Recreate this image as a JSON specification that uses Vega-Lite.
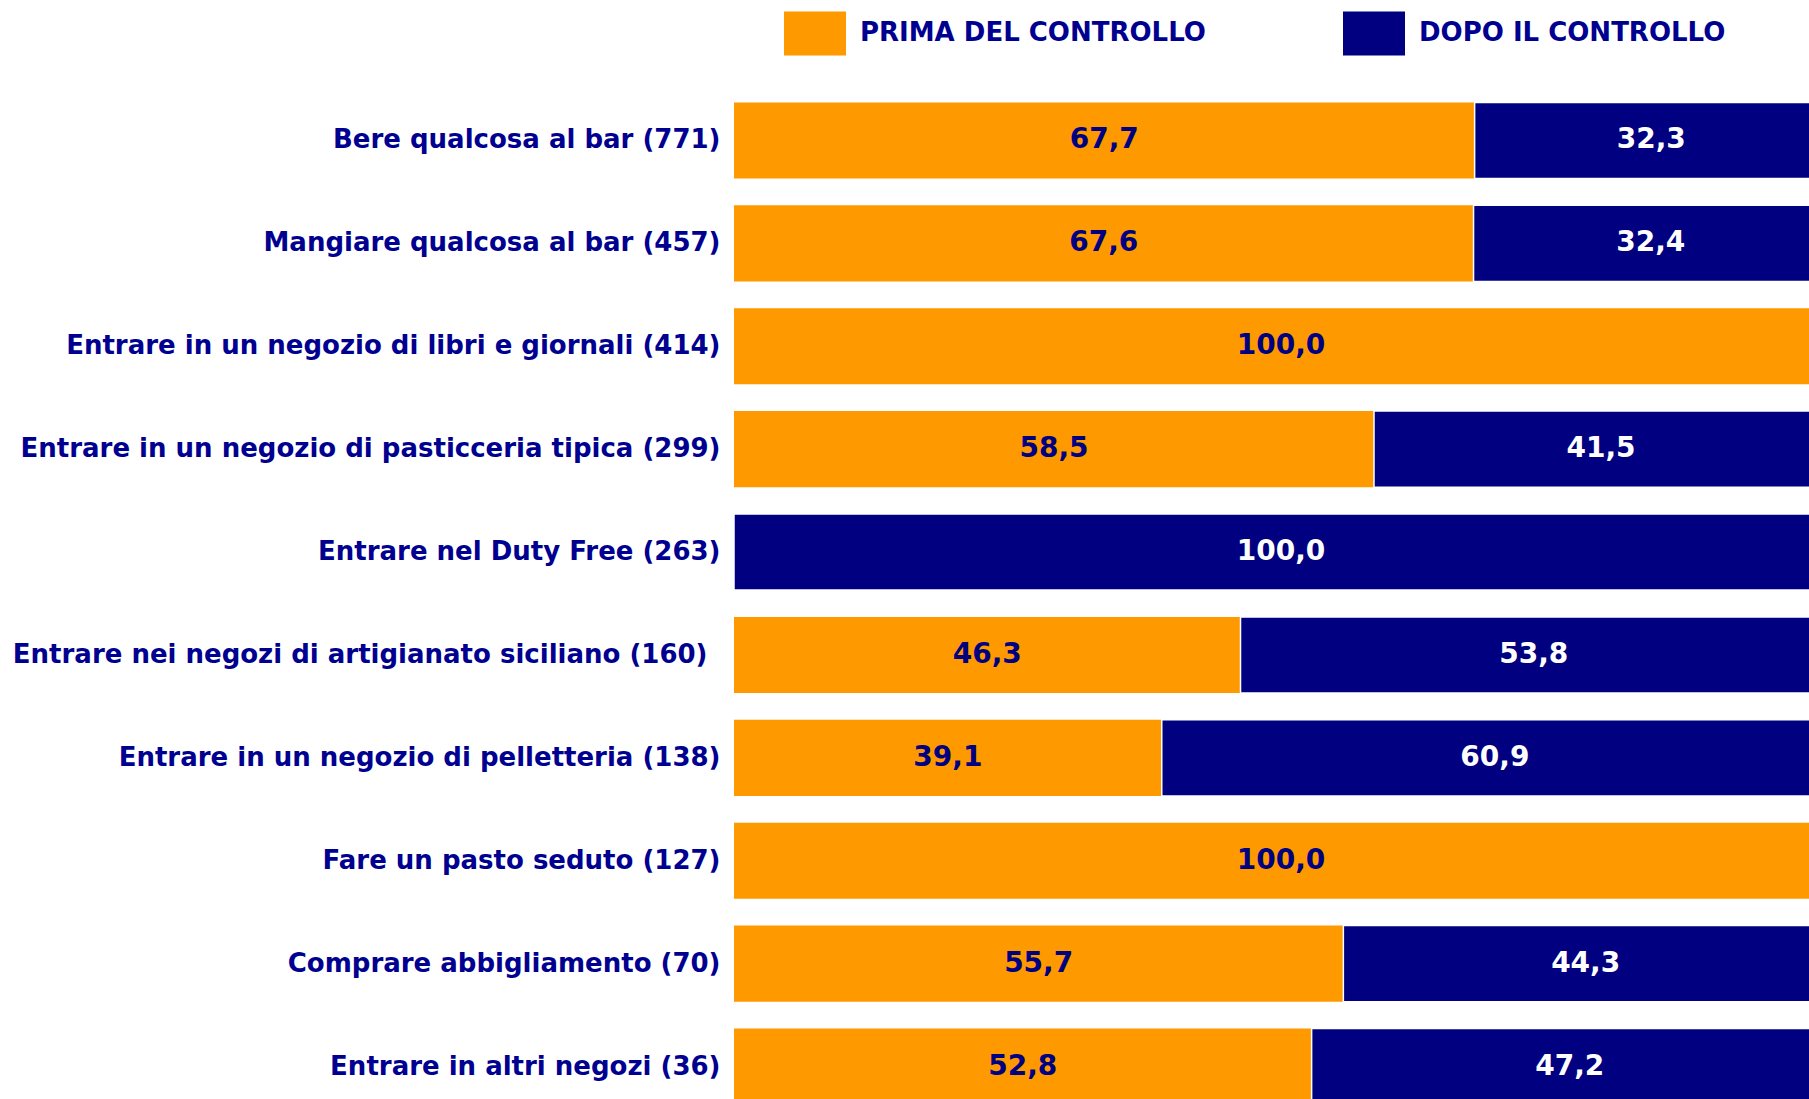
{
  "$schema": "https://vega.github.io/schema/vega-lite/v6.json",
  "width": 1075,
  "height": 1010,
  "autosize": {"type": "none"},
  "padding": {"left": 734, "top": 89, "right": 0, "bottom": 0},
  "background": "white",
  "config": {
    "view": {"stroke": null},
    "locale": {"number": {"decimal": ",", "thousands": ".", "grouping": [3], "currency": ["", " €"]}}
  },
  "data": {
    "values": [
      {"attivita": "Bere qualcosa al bar (771)", "prima": 67.7, "dopo": 32.3},
      {"attivita": "Mangiare qualcosa al bar (457)", "prima": 67.6, "dopo": 32.4},
      {"attivita": "Entrare in un negozio di libri e giornali (414)", "prima": 100.0, "dopo": 0},
      {"attivita": "Entrare in un negozio di pasticceria tipica (299)", "prima": 58.5, "dopo": 41.5},
      {"attivita": "Entrare nel Duty Free (263)", "prima": 0, "dopo": 100.0},
      {"attivita": "Entrare nei negozi di artigianato siciliano (160)\u2002\u200b", "prima": 46.3, "dopo": 53.8},
      {"attivita": "Entrare in un negozio di pelletteria (138)", "prima": 39.1, "dopo": 60.9},
      {"attivita": "Fare un pasto seduto (127)", "prima": 100.0, "dopo": 0},
      {"attivita": "Comprare abbigliamento (70)", "prima": 55.7, "dopo": 44.3},
      {"attivita": "Entrare in altri negozi (36)", "prima": 52.8, "dopo": 47.2}
    ]
  },
  "encoding": {
    "y": {
      "field": "attivita",
      "type": "nominal",
      "sort": null,
      "scale": {"range": [0, 1029], "paddingInner": 0.26, "paddingOuter": 0.13},
      "axis": {
        "title": null,
        "domain": false,
        "ticks": false,
        "labelFont": "DejaVu Sans",
        "labelFontWeight": "bold",
        "labelFontSize": 26,
        "labelColor": "#000090",
        "labelPadding": 14,
        "labelLimit": 0
      }
    }
  },
  "layer": [
    {
      "mark": {"type": "bar", "clip": true},
      "encoding": {
        "x": {"field": "prima", "type": "quantitative", "scale": {"domain": [0, 100], "range": [0, 1094]}, "axis": null},
        "color": {
          "datum": "PRIMA DEL CONTROLLO",
          "type": "nominal",
          "scale": {"domain": ["PRIMA DEL CONTROLLO", "DOPO IL CONTROLLO"], "range": ["#FF9900", "#000080"]},
          "legend": {
            "title": null,
            "orient": "none",
            "legendX": 50,
            "legendY": -87,
            "direction": "horizontal",
            "columns": 2,
            "columnPadding": 137,
            "padding": 0,
            "symbolType": "M-1,-0.71H1V0.71H-1Z",
            "symbolSize": 3844,
            "symbolStrokeWidth": 0,
            "symbolOpacity": 1,
            "labelFont": "DejaVu Sans",
            "labelFontWeight": "bold",
            "labelFontSize": 26,
            "labelColor": "#000090",
            "labelOffset": 14,
            "labelLimit": 0
          }
        }
      }
    },
    {
      "transform": [{"filter": "datum.dopo > 0"}],
      "mark": {"type": "bar", "clip": true, "stroke": "white", "strokeWidth": 1.5},
      "encoding": {
        "x": {"field": "prima", "type": "quantitative", "scale": {"domain": [0, 100], "range": [0, 1094]}, "axis": null},
        "x2": {"datum": 100},
        "color": {"datum": "DOPO IL CONTROLLO", "type": "nominal"}
      }
    },
    {
      "transform": [{"filter": "datum.prima > 0"}],
      "mark": {"type": "text", "font": "DejaVu Sans", "fontWeight": "bold", "fontSize": 28, "color": "#000080", "align": "center", "baseline": "middle"},
      "encoding": {
        "x": {"field": "prima", "type": "quantitative", "scale": {"domain": [0, 100], "range": [0, 547]}, "axis": null},
        "text": {"field": "prima", "type": "quantitative", "format": ".1f"}
      }
    },
    {
      "transform": [{"filter": "datum.dopo > 0"}],
      "mark": {"type": "text", "font": "DejaVu Sans", "fontWeight": "bold", "fontSize": 28, "color": "white", "align": "center", "baseline": "middle"},
      "encoding": {
        "x": {"field": "dopo", "type": "quantitative", "scale": {"domain": [0, 100], "range": [1094, 547]}, "axis": null},
        "text": {"field": "dopo", "type": "quantitative", "format": ".1f"}
      }
    }
  ],
  "resolve": {"scale": {"x": "independent"}}
}
